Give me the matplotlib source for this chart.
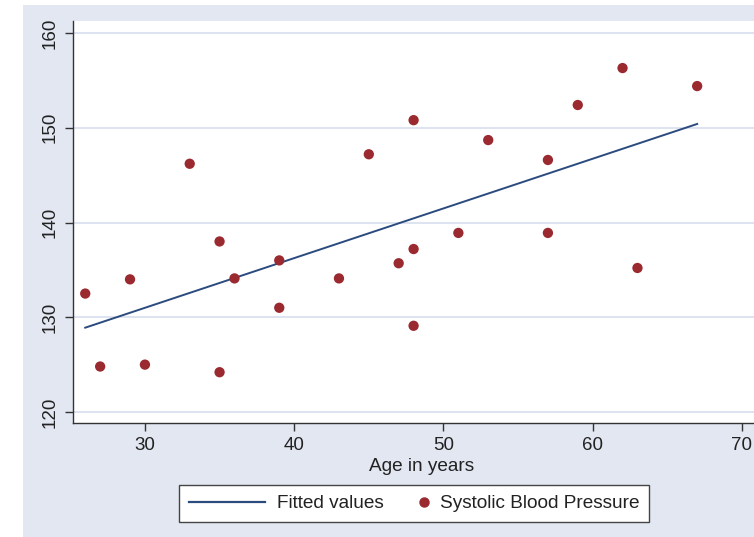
import numpy as np
import matplotlib.pyplot as plt
from matplotlib.lines import Line2D
from matplotlib.legend_handler import HandlerLine2D

# age (years) and systolic blood pressure
age = [26, 27, 29, 30, 33, 35, 35, 36, 39, 39, 43, 45, 47, 48, 48, 48,
       51, 53, 57, 57, 59, 62, 63, 67]
sbp = [132.5, 124.8, 134.0, 125.0, 146.2, 138.0, 124.2, 134.1, 136.0, 131.0,
       134.1, 147.2, 135.7, 150.8, 137.2, 129.1, 138.9, 148.7, 146.6, 138.9,
       152.4, 156.3, 135.2, 154.4]

# fitted regression line (end points as drawn)
fit_x = [26, 67]
fit_y = [128.9, 150.4]

xticks = [30, 40, 50, 60, 70]
yticks = [120, 130, 140, 150, 160]

plt.rcParams['font.family'] = ['Liberation Sans', 'DejaVu Sans']

W, H = 754, 537
fig = plt.figure(figsize=(W / 100, H / 100), dpi=100, facecolor='white')

# stata-like light background panel (cropped on the right)
bg = '#E2E7F1'
bg_ax = fig.add_axes([23 / W, 0, 1, 1 - 5 / H], zorder=-1)
bg_ax.set_facecolor(bg)
bg_ax.set_xticks([])
bg_ax.set_yticks([])
for s in bg_ax.spines.values():
    s.set_visible(False)

# axes box in pixels: left 73, top 21, bottom 423, runs past the right edge
left, top, bottom, right = 73, 21, 423, 770
ax = fig.add_axes([left / W, 1 - bottom / H, (right - left) / W, (bottom - top) / H])
ax.set_facecolor('white')

px_x = 14.925  # pixels per year
px_y = 9.475   # pixels per mmHg
ax.set_xlim(25.18, 25.18 + (right - left) / px_x)
ax.set_ylim(160 - (bottom - 33) / px_y, 160 + (33 - top) / px_y)

for yv in yticks:
    ax.axhline(yv, color='#DDE3EF', lw=1.4, zorder=1)

ax.plot(fit_x, fit_y, color='#2B4A7E', lw=1.4, zorder=2)
ax.scatter(age, sbp, s=55, color='#9A2A2F', edgecolors='none', zorder=3)

ax.set_xticks(xticks)
ax.set_yticks(yticks)
ax.set_yticklabels([str(v) for v in yticks], rotation=90, va='center')
ax.tick_params(axis='both', labelsize=13.5, length=6, width=1.0, color='#333333',
               labelcolor='#222222', pad=4)
for s in ['top', 'right']:
    ax.spines[s].set_visible(False)
for s in ['left', 'bottom']:
    ax.spines[s].set_color('#333333')
    ax.spines[s].set_linewidth(1.0)

ax.set_xlabel('Age in years', fontsize=13.7, color='#222222', labelpad=3)

line_h = Line2D([], [], color='#2B4A7E', lw=1.6)
dot_h = Line2D([], [], marker='o', color='#9A2A2F', ls='none', markersize=6.5)
leg = fig.legend([line_h, dot_h], ['Fitted values', 'Systolic Blood Pressure'],
                 loc='center', bbox_to_anchor=(414 / W, 1 - 503.5 / H),
                 ncol=2, fontsize=13.7, frameon=True, fancybox=False,
                 framealpha=1, facecolor='white',
                 handlelength=4.0, columnspacing=-1.7, handletextpad=0.65,
                 borderpad=0.5,
                 handler_map={dot_h: HandlerLine2D(numpoints=1, xpad=3.6)})
leg.get_frame().set_edgecolor('#444444')
leg.get_frame().set_linewidth(1.0)
for t in leg.get_texts():
    t.set_color('#222222')

fig.savefig('out.png', dpi=100, facecolor=fig.get_facecolor())
